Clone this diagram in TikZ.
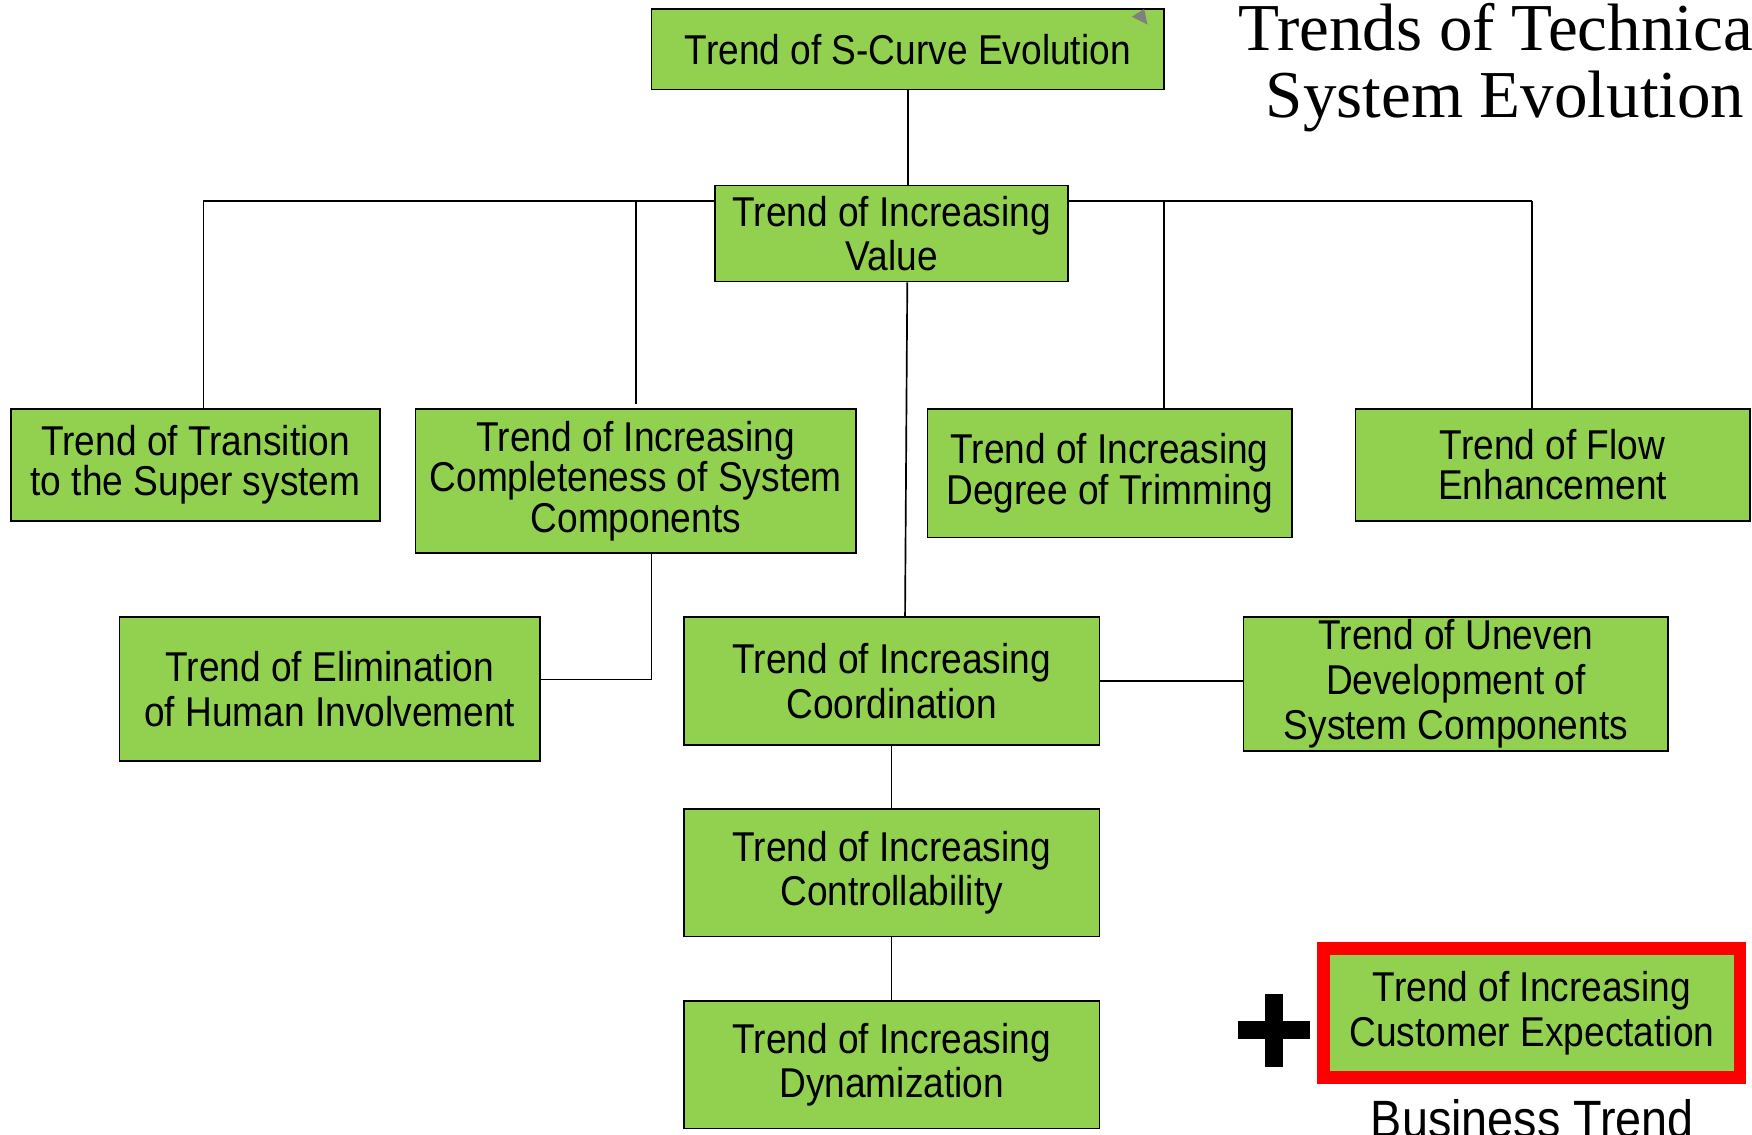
\documentclass[tikz,border=0pt]{standalone}
\usepackage{fontspec}
\setmainfont{Liberation Sans}[FakeStretch=0.89]
\newfontfamily\titlefont{Liberation Serif}
\definecolor{trendgreen}{HTML}{92D050}
\definecolor{framered}{HTML}{FF0000}
\begin{document}
\begin{tikzpicture}[x=0.5pt,y=-0.5pt,
  trendbox/.style={draw=black, line width=0.75pt, fill=trendgreen, align=center,
    inner sep=0pt, font=\fontsize{18.65}{20}\selectfont},
  tightbox/.style={trendbox, font=\fontsize{18.65}{18}\selectfont},
  bx/.style 2 args={minimum width=#1, minimum height=#2},
  link/.style={draw=black, line width=0.75pt}]
\useasboundingbox (0,0) rectangle (1568,1015);
\clip (0,0) rectangle (1568,1015);

% connectors behind boxes: bus line
\coordinate (busL) at (182,180);
\coordinate (busM) at (569,180);
\coordinate (busT) at (1042,180);
\coordinate (busR) at (1371,180);

% boxes
\node[trendbox, bx={229.5pt}{36pt}] (scurve) at (812.5,44) {Trend of S-Curve Evolution};
\fill[gray] (1013,15) -- (1024,8) -- (1027,22) -- cycle;

\draw[link] (busL) -- (busR);
\node[trendbox, bx={158pt}{43pt}] (value) at (798,209) {Trend of Increasing\\Value};

\node[tightbox, bx={165pt}{50pt}] (trans) at (175,416) {Trend of Transition\\to the Super system};
\node[tightbox, bx={197pt}{64.5pt}] (compl) at (569,430.5) {Trend of Increasing\\Completeness of System\\Components};
\node[tightbox, bx={163pt}{57.5pt}] (trim) at (993,423.5) {Trend of Increasing\\Degree of Trimming};
\node[tightbox, bx={176.5pt}{50pt}] (flow) at (1389.5,416) {Trend of Flow\\Enhancement};

\node[trendbox, bx={188pt}{64.5pt}] (elim) at (295,616.5) {Trend of Elimination\\of Human Involvement};
\node[trendbox, bx={186pt}{57.5pt}] (coord) at (798,609.5) {Trend of Increasing\\Coordination};
\node[trendbox, bx={190pt}{60pt}] (uneven) at (1303,612) {Trend of Uneven\\Development of\\System Components};

\node[trendbox, bx={186pt}{57pt}] (control) at (798,781) {Trend of Increasing\\Controllability};
\node[trendbox, bx={186pt}{57pt}] (dyna) at (798,953) {Trend of Increasing\\Dynamization};

\node[trendbox, draw=framered, line width=5.75pt, bx={186.25pt}{57.75pt}] (cust) at (1371,906.5)
  {Trend of Increasing\\Customer Expectation};
\node[anchor=base, inner sep=0pt, font=\fontsize{23.5}{24}\selectfont] (btrend) at (1371.5,1018) {Business Trend};

% plus sign
\fill[black] (1107.6,913.5) rectangle (1172.3,930.2);
\fill[black] (1131.7,889.6) rectangle (1147.9,954.7);

% title
\node[anchor=base, inner sep=0pt, font=\titlefont\fontsize{30}{30}\selectfont] (title1) at (1347,45) {Trends of Technical};
\node[anchor=base, inner sep=0pt, font=\titlefont\fontsize{30}{30}\selectfont] (title2) at (1347,105) {System Evolution};

% connectors
\draw[link] (scurve.south) -- (scurve.south |- value.north);
\draw[link] (busL) -- (busL |- trans.north);
\draw[link] (busM) -- ([yshift=2pt]compl.north);
\draw[link] (busT) -- (busT |- trim.north);
\draw[link] (busR) -- (busR |- flow.north);
\draw[link] ([xshift=7pt]value.south) -- ([xshift=6pt]coord.north);
\draw[link] ([xshift=7pt]compl.south) |- ([yshift=4.25pt]elim.east);
\draw[link] (coord.east) -- (uneven.west |- coord.east);
\draw[link] (coord.south) -- (control.north);
\draw[link] (control.south) -- (dyna.north);
\end{tikzpicture}
\end{document}
